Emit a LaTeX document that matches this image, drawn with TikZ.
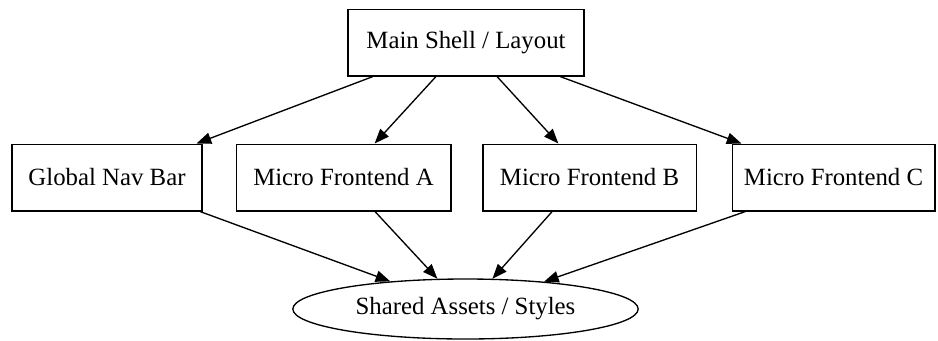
\documentclass[tikz,border=0pt]{standalone}
\usepackage{fontspec}
\setmainfont{Liberation Serif}
\usetikzlibrary{positioning,shapes.geometric,arrows.meta}

\begin{document}
\begin{tikzpicture}[
    x=0.75pt, y=-0.75pt,
    block/.style={rectangle, draw=black, line width=1pt, minimum height=50pt,
                  inner sep=0pt, align=center, font=\fontsize{18.6}{22}\selectfont},
    store/.style={ellipse, draw=black, line width=1pt, minimum width=259pt,
                  minimum height=45pt, inner sep=0pt, align=center,
                  font=\fontsize{18.6}{22}\selectfont},
    arr/.style={-{Triangle[length=11pt,width=8.5pt]}, line width=1pt, color=black}
]
\useasboundingbox (0,0) rectangle (938,340);

% Shell
\node[block, minimum width=177pt] (shell) at (466,42.5) {Main Shell / Layout};

% Children
\node[block, minimum width=142.5pt] (nav) at (107,177.5) {Global Nav Bar};
\node[block, minimum width=161pt] (mfa) at (343.5,177.5) {Micro Frontend A};
\node[block, minimum width=160pt] (mfb) at (589.5,177.5) {Micro Frontend B};
\node[block, minimum width=152pt] (mfc) at (833.5,177.5) {Micro Frontend C};

% Shared assets
\node[store] (assets) at (465.5,309) {Shared Assets / Styles};

% Arrows
\draw[arr] ([xshift=-69.75pt]shell.south) -- (nav);
\draw[arr] ([xshift=-22.5pt]shell.south)  -- (mfa);
\draw[arr] ([xshift=23.25pt]shell.south)  -- (mfb);
\draw[arr] ([xshift=70.5pt]shell.south)   -- (mfc);
\draw[arr] ([xshift=-2pt]nav.south east)  -- (assets);
\draw[arr] ([xshift=23.6pt]mfa.south)     -- (assets);
\draw[arr] ([xshift=-28pt]mfb.south)      -- (assets);
\draw[arr] ([xshift=-66pt]mfc.south)      -- (assets);

\end{tikzpicture}
\end{document}
